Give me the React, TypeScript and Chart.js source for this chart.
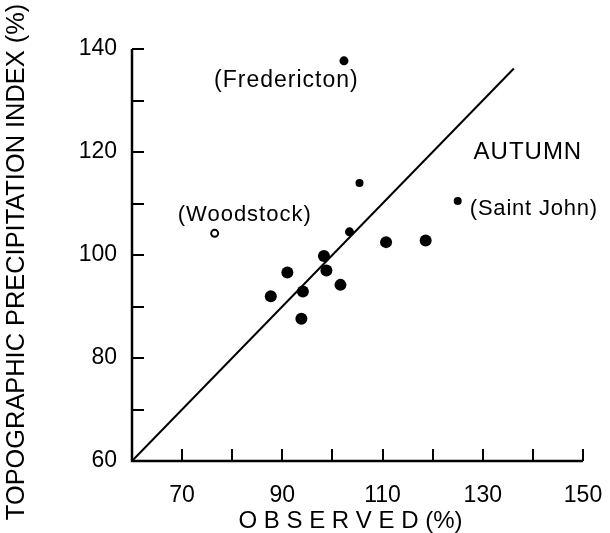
import React, { useEffect, useRef } from 'react';
import { Chart, registerables } from 'chart.js';

Chart.register(...registerables);

// Observed (%) vs topographic precipitation index (%) — filled stations
const observedFilled = [102.3, 125.0, 87.7, 91.0, 94.1, 93.8, 98.3, 98.8, 101.6, 103.4, 105.4, 110.7, 118.6];
const indexFilled = [137.7, 110.5, 92.0, 96.6, 92.9, 87.6, 99.8, 97.0, 94.2, 104.5, 114.0, 102.5, 102.8];
const filledRadii = [4.5, 4, 6, 6, 6, 6, 6, 6, 6, 4.5, 4, 6, 6];

// Open-circle station (Woodstock)
const observedOpen = [76.5];
const indexOpen = [104.2];

// 1:1 line
const lineX = [60, 136.2];
const lineY = [60, 136.2];

const xTickLabels = [70, 90, 110, 130, 150];
const yTickLabels = [60, 80, 100, 120, 140];

const xTitle = 'O B S E R V E D (%)';
const yTitle = 'TOPOGRAPHIC PRECIPITATION INDEX (%)';

const stationLabels = ['(Fredericton)', '(Woodstock)', '(Saint John)', 'AUTUMN'];
const stationLabelX = [90.8, 82.5, 127.4, 139.0];
const stationLabelY = [133.8, 107.8, 108.9, 120.0];
const stationLabelAlign: CanvasTextAlign[] = ['center', 'center', 'left', 'center'];
const stationLabelSize = [23, 22, 22, 24];
const stationLabelSpacing = [1, 1, 0.8, 1];

const FONT = '"Liberation Sans", Arial, Helvetica, sans-serif';

const axesPlugin = {
  id: 'insideAxes',
  afterDatasetsDraw(chart: any) {
    const { ctx, scales } = chart;
    const xs = scales.x;
    const ys = scales.y;
    const x0 = xs.getPixelForValue(xs.min);
    const x1 = xs.getPixelForValue(xs.max);
    const y0 = ys.getPixelForValue(ys.min);
    const y1 = ys.getPixelForValue(ys.max);
    ctx.save();
    ctx.strokeStyle = '#000';
    ctx.lineCap = 'butt';
    ctx.lineWidth = 2.5;
    ctx.beginPath();
    ctx.moveTo(x0, y1);
    ctx.lineTo(x0, y0);
    ctx.lineTo(x1, y0);
    ctx.stroke();
    ctx.lineWidth = 2;
    const tl = 12;
    ctx.beginPath();
    xs.ticks.forEach((t: any) => {
      if (t.value === xs.min) return;
      const px = Math.round(xs.getPixelForValue(t.value));
      ctx.moveTo(px, y0);
      ctx.lineTo(px, y0 - tl);
    });
    ys.ticks.forEach((t: any) => {
      if (t.value === ys.min) return;
      const py = Math.round(ys.getPixelForValue(t.value));
      ctx.moveTo(x0, py);
      ctx.lineTo(x0 + tl, py);
    });
    ctx.stroke();

    // axis titles
    ctx.fillStyle = '#000';
    ctx.textAlign = 'center';
    ctx.textBaseline = 'middle';
    ctx.font = `24px ${FONT}`;
    ctx.fillText(xTitle, (x0 + x1) / 2 - 7, chart.height - 12);
    ctx.save();
    ctx.translate(17, (y0 + y1) / 2 + 7);
    ctx.rotate(-Math.PI / 2);
    ctx.font = `25.4px ${FONT}`;
    ctx.fillText(yTitle, 0, 0);
    ctx.restore();
    ctx.restore();
  },
};

const labelPlugin = {
  id: 'stationLabels',
  afterDatasetsDraw(chart: any) {
    const { ctx, scales } = chart;
    ctx.save();
    ctx.fillStyle = '#000';
    ctx.textBaseline = 'middle';
    stationLabels.forEach((txt, i) => {
      ctx.font = `${stationLabelSize[i]}px ${FONT}`;
      (ctx as any).letterSpacing = `${stationLabelSpacing[i]}px`;
      ctx.textAlign = stationLabelAlign[i];
      ctx.fillText(txt, scales.x.getPixelForValue(stationLabelX[i]), scales.y.getPixelForValue(stationLabelY[i]));
    });
    ctx.restore();
  },
};

export default function App() {
  const ref = useRef<HTMLCanvasElement | null>(null);
  useEffect(() => {
    if (!ref.current) return;
    const chart = new Chart(ref.current, {
      type: 'scatter',
      data: {
        datasets: [
          {
            type: 'line',
            data: lineX.map((x, i) => ({ x, y: lineY[i] })),
            borderColor: '#000',
            borderWidth: 2,
            pointRadius: 0,
            fill: false,
          } as any,
          {
            data: observedFilled.map((x, i) => ({ x, y: indexFilled[i] })),
            backgroundColor: '#000',
            borderColor: '#000',
            borderWidth: 0,
            pointRadius: filledRadii,
          },
          {
            data: observedOpen.map((x, i) => ({ x, y: indexOpen[i] })),
            backgroundColor: '#fff',
            borderColor: '#000',
            borderWidth: 2,
            pointRadius: 3.5,
          },
        ],
      },
      options: {
        animation: false,
        responsive: false,
        devicePixelRatio: 1,
        layout: { padding: { top: 49, right: 27, left: 0, bottom: 0 } },
        plugins: { legend: { display: false }, tooltip: { enabled: false } },
        scales: {
          x: {
            type: 'linear',
            min: 60,
            max: 150,
            grid: { display: false, drawTicks: false },
            border: { display: false },
            ticks: {
              stepSize: 10,
              autoSkip: false,
              maxRotation: 0,
              padding: 21,
              color: '#000',
              font: { family: FONT, size: 23 },
              callback: (v: any) => (xTickLabels.includes(Number(v)) ? String(v) : ''),
            },
            title: { display: false },
            afterFit: (s: any) => {
              s.height = 72;
              s.paddingLeft = 0;
              s.paddingRight = 0;
            },
          },
          y: {
            type: 'linear',
            min: 60,
            max: 140,
            grid: { display: false, drawTicks: false },
            border: { display: false },
            ticks: {
              stepSize: 10,
              autoSkip: false,
              padding: 15,
              color: '#000',
              font: { family: FONT, size: 23 },
              callback: (v: any) => (yTickLabels.includes(Number(v)) ? String(v) : ''),
            },
            title: { display: false },
            afterFit: (s: any) => {
              s.width = 132;
              s.paddingTop = 0;
              s.paddingBottom = 0;
            },
          },
        },
      },
      plugins: [axesPlugin, labelPlugin],
    });
    return () => chart.destroy();
  }, []);
  return (
    <div style={{ position: 'fixed', left: 0, top: 0, width: 610, height: 533, background: '#fff' }}>
      <canvas ref={ref} width={610} height={533} style={{ width: 610, height: 533, display: 'block' }} />
    </div>
  );
}
